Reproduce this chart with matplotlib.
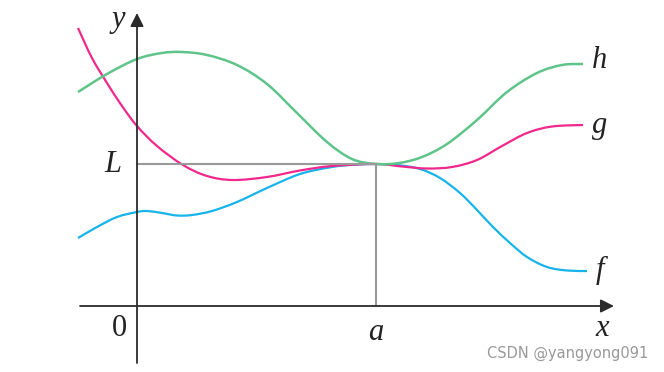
import numpy as np
import matplotlib.pyplot as plt
from matplotlib.path import Path
from matplotlib.patches import PathPatch

# coordinates: origin where the axes cross, units ~ pixels of the reference
h_x = [-59, -30, 0, 25, 45, 70, 100, 130, 160, 190, 215, 239, 262, 285, 310, 340, 370, 400, 425, 446]
h_y = [214, 232, 247, 253, 254, 251, 241, 222, 193, 164, 147, 142, 143, 149, 162, 186, 214, 233, 241, 242]

g_x = [-59, -45, -30, -15, 0, 20, 46, 70, 96, 130, 163, 195, 239, 265, 290, 315, 340, 365, 390, 415, 446]
g_y = [278, 248, 223, 200, 180, 160, 141, 130, 126, 129, 135.5, 140, 142, 139.5, 137.5, 139, 146, 160, 173, 179.5, 181]

f_x = [-59, -40, -20, 0, 10, 25, 40, 55, 75, 100, 130, 163, 195, 217, 239, 260, 283, 303, 323, 340, 356, 373, 390, 410, 430, 450]
f_y = [68, 79, 89, 94, 95, 93, 90.5, 91, 95, 104, 118, 132, 139, 141.3, 142, 141, 137, 128, 113, 96, 79, 63, 49, 39, 35.5, 35]

L = 142
a = 239


def smooth_path(xs, ys):
    # bezier path through the points (catmull-rom tangents)
    p = np.column_stack([xs, ys]).astype(float)
    verts = [p[0]]
    codes = [Path.MOVETO]
    n = len(p)
    for i in range(n - 1):
        p0 = p[i - 1] if i > 0 else p[i]
        p3 = p[i + 2] if i + 2 < n else p[i + 1]
        c1 = p[i] + (p[i + 1] - p0) / 6
        c2 = p[i + 1] - (p3 - p[i]) / 6
        verts += [c1, c2, p[i + 1]]
        codes += [Path.CURVE4] * 3
    return Path(verts, codes)


fig = plt.figure(figsize=(6.64, 3.72), dpi=100)
ax = fig.add_axes([0, 0, 1, 1])
ax.set_xlim(-137, 527)
ax.set_ylim(-66, 306)
ax.axis('off')

axis_col = '#2b2b2b'
# axes with arrows
ax.annotate('', xy=(477, 0), xytext=(-57, 0),
            arrowprops=dict(arrowstyle='-|>', color=axis_col, lw=1.3, mutation_scale=20, shrinkA=0, shrinkB=0))
ax.annotate('', xy=(0, 293), xytext=(0, -57),
            arrowprops=dict(arrowstyle='-|>', color=axis_col, lw=1.3, mutation_scale=20, shrinkA=0, shrinkB=0))

# L and a guide lines
ax.plot([0, a], [L, L], color='#9a9a9a', lw=1.5)
ax.plot([a, a], [0, L], color='#9a9a9a', lw=1.5)

for xs, ys, col, lw in [(f_x, f_y, '#17b4ea', 1.6), (g_x, g_y, '#f0288c', 1.6), (h_x, h_y, '#5ec48a', 1.8)]:
    ax.add_patch(PathPatch(smooth_path(xs, ys), fill=False, edgecolor=col, lw=lw, capstyle='butt'))

tkw = dict(family='Liberation Serif', fontsize=22, color='#222222', ha='center', va='center')
ax.text(-19, 287, 'y', style='italic', **tkw)
ax.text(-24, 141, 'L', style='italic', **tkw)
ax.text(-18, -22, '0', **tkw)
ax.text(a, -27, 'a', style='italic', **tkw)
ax.text(465, -22, 'x', style='italic', **tkw)
ax.text(463, 246, 'h', style='italic', **tkw)
ax.text(463, 181, 'g', style='italic', **tkw)
ax.text(463, 36, 'f', style='italic', **tkw)

ax.text(431, -47, 'CSDN @yangyong091', fontsize=10.5, color='#999999', ha='center', va='center')

fig.savefig('out.png', dpi=100)
